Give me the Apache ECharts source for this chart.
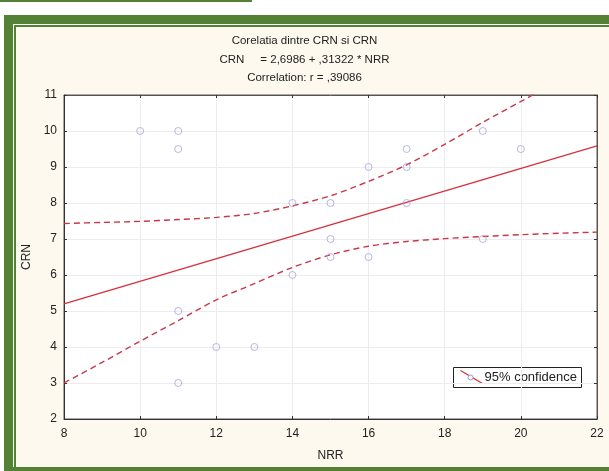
<!DOCTYPE html>
<html>
<head>
<meta charset="utf-8">
<script src="https://cdn.jsdelivr.net/npm/echarts@6/dist/echarts.min.js"></script>
<style>
  html, body { margin: 0; padding: 0; background: #ffffff; }
  .abs { position: absolute; }
</style>
</head>
<body>
<div class="abs" style="left:0;top:0;width:252px;height:2px;background:#548235;"></div>
<div class="abs" style="left:4px;top:15px;width:605px;height:456px;background:#548235;"></div>
<div class="abs" style="left:13px;top:24px;width:596px;height:443px;background:#ffffff;"></div>
<div class="abs" style="left:14px;top:25px;width:595px;height:442px;background:#548235;"></div>
<div class="abs" style="left:16px;top:27px;width:593px;height:440px;background:#fdf9ee;"></div>
<div id="chart" class="abs" style="left:0;top:0;width:609px;height:471px;"></div>
<script>
// Observed points (NRR, CRN)
var nrr = [10, 11, 11, 11, 11, 12, 13, 14, 14, 15, 15, 15, 16, 16, 17, 17, 17, 19, 19, 20];
var crn = [10, 10, 9.5, 5, 3, 4, 4, 8, 6, 8, 7, 6.5, 9, 6.5, 9.5, 9, 8, 10, 7, 9.5];

// Regression line (CRN = 2,6986 + ,31322 * NRR)
var regX = [8, 22];
var regY = [5.20, 9.59];

// 95% confidence band
var bandX = [8, 9, 10, 11, 12, 13, 14, 15, 16, 17, 18, 19, 20, 21, 22];
var upperY = [7.43, 7.46, 7.49, 7.54, 7.60, 7.71, 7.92, 8.20, 8.60, 9.06, 9.63, 10.24, 10.82, 11.40, 12.0];
var lowerY = [3.00, 3.57, 4.16, 4.73, 5.31, 5.76, 6.21, 6.56, 6.80, 6.93, 7.01, 7.07, 7.12, 7.16, 7.19];

var xTicks = { min: 8, max: 22, interval: 2 };
var yTicks = { min: 2, max: 11, interval: 1 };

var titleLines = ['Corelatia dintre CRN si CRN', 'CRN     = 2,6986 + ,31322 * NRR', 'Correlation: r = ,39086'];

function zip(a, b) { return a.map(function (v, i) { return [v, b[i]]; }); }

var FONT = 'Liberation Sans, Arial, sans-serif';
var chart = echarts.init(document.getElementById('chart'), null, { renderer: 'canvas' });

var baseAxis = {
  type: 'value',
  axisLine: { show: true, lineStyle: { color: '#333333', width: 1 } },
  axisTick: { show: true, inside: true, length: 3, lineStyle: { color: '#333333' } },
  splitLine: { show: false },
  axisLabel: { show: false }
};

chart.setOption({
  backgroundColor: 'transparent',
  animation: false,
  title: titleLines.map(function (t, i) {
    return {
      text: t, left: 'center', top: 35 + i * 18.5, padding: 0,
      textStyle: { fontFamily: FONT, fontSize: 11.5, fontWeight: 'normal', color: '#222222' }
    };
  }),
  grid: {
    left: 64, right: 12, top: 95, bottom: 52,
    show: true, backgroundColor: '#ffffff', borderColor: '#555555', borderWidth: 1
  },
  xAxis: [
    Object.assign({}, baseAxis, {
      position: 'bottom',
      min: xTicks.min, max: xTicks.max, interval: xTicks.interval,
      name: 'NRR', nameLocation: 'middle', nameGap: 31,
      nameTextStyle: { fontFamily: FONT, fontSize: 12, color: '#222222' },
      axisLabel: { show: true, margin: 9, fontFamily: FONT, fontSize: 12, color: '#222222' },
      splitLine: { show: true, lineStyle: { color: '#ececf2', width: 1 } }
    }),
    Object.assign({}, baseAxis, {
      position: 'top',
      min: xTicks.min, max: xTicks.max, interval: xTicks.interval,
      axisLine: { show: true, lineStyle: { color: '#555555', width: 1 } }
    })
  ],
  yAxis: [
    Object.assign({}, baseAxis, {
      position: 'left',
      min: yTicks.min, max: yTicks.max, interval: yTicks.interval,
      name: 'CRN', nameLocation: 'middle', nameGap: 28, nameRotate: 90,
      nameTextStyle: { fontFamily: FONT, fontSize: 12, color: '#222222' },
      axisLabel: { show: true, margin: 7, fontFamily: FONT, fontSize: 12, color: '#222222' },
      splitLine: { show: true, lineStyle: { color: '#ececf2', width: 1 } }
    }),
    Object.assign({}, baseAxis, {
      position: 'right',
      min: yTicks.min, max: yTicks.max, interval: yTicks.interval,
      axisLine: { show: true, lineStyle: { color: '#555555', width: 1 } }
    })
  ],
  series: [
    {
      name: 'upper', type: 'line', data: zip(bandX, upperY), smooth: 0.3,
      showSymbol: false, clip: true,
      lineStyle: { color: '#c8384a', width: 1.4, type: [6, 4] }, z: 3
    },
    {
      name: 'lower', type: 'line', data: zip(bandX, lowerY), smooth: 0.3,
      showSymbol: false, clip: true,
      lineStyle: { color: '#c8384a', width: 1.4, type: [6, 4] }, z: 3
    },
    {
      name: 'regression', type: 'line', data: zip(regX, regY),
      showSymbol: false, clip: true,
      lineStyle: { color: '#d6303c', width: 1.3 }, z: 4
    },
    {
      name: 'CRN', type: 'scatter', data: zip(nrr, crn),
      symbol: 'circle', symbolSize: 7,
      itemStyle: { color: 'rgba(255,255,255,0)', borderColor: '#9c9cd2', borderWidth: 0.9 }, z: 5
    }
  ],
  graphic: [
    {
      type: 'group', left: 453, top: 367, z: 100,
      children: [
        { type: 'rect', shape: { x: 0, y: 0, width: 128, height: 20 },
          style: { fill: '#ffffff', stroke: '#222222', lineWidth: 1 } },
        { type: 'line', shape: { x1: 7, y1: 3, x2: 29, y2: 16 },
          style: { stroke: '#d6303c', lineWidth: 1.3 } },
        { type: 'circle', shape: { cx: 17, cy: 10, r: 2.5 },
          style: { fill: '#ffffff', stroke: '#9a9ad0', lineWidth: 1 } },
        { type: 'text', x: 31, y: 10,
          style: { text: '95% confidence', fontFamily: FONT, fontSize: 13, fill: '#222222', verticalAlign: 'middle' } }
      ]
    }
  ]
});
</script>
</body>
</html>
